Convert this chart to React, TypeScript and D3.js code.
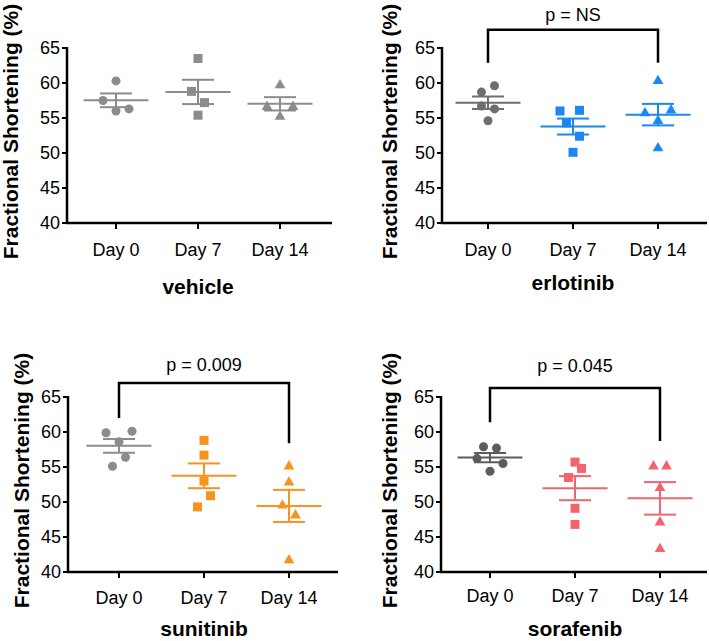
import React from "react";
import * as d3 from "d3";

// categories and values
const days = ["Day 0", "Day 7", "Day 14"];
const yTicks = [40, 45, 50, 55, 60, 65];

const vehicleValues = [
  [60.3, 57.5, 56.0, 56.3],
  [63.5, 58.8, 57.2, 55.4],
  [59.7, 56.6, 56.6, 55.2],
];
const vehicleJitter = [
  [0, -2, 0, 2],
  [0, -1, 1, 0],
  [0, -2, 2, 0],
];

const erlotinibValues = [
  [59.6, 58.7, 56.7, 56.3, 54.6],
  [56.0, 56.1, 54.3, 52.4, 50.1],
  [60.3, 55.7, 56.1, 54.6, 50.7],
];
const erlotinibJitter = [
  [1, -1, -1, 1, 0],
  [-2, 1, -1, 1, 0],
  [0, -2, 2, 0, 0],
];

const sunitinibValues = [
  [59.9, 60.1, 58.6, 56.4, 55.1],
  [58.8, 56.7, 53.0, 50.9, 49.3],
  [55.1, 52.8, 49.5, 48.1, 41.7],
];
const sunitinibJitter = [
  [-2, 2, 0, 1, -1],
  [0, 0, 0, 1, -1],
  [0, 0, -1, 1, 0],
];

const sorafenibValues = [
  [57.9, 57.7, 56.2, 55.5, 54.4],
  [55.7, 54.8, 53.5, 49.1, 46.8],
  [55.1, 55.1, 52.0, 47.1, 43.3],
];
const sorafenibJitter = [
  [-1, 1, -2, 2, 0],
  [0, 1, -1, 0, 0],
  [-1, 1, 0, 0, 0],
];

const pLabels = ["p = NS", "p = 0.009", "p = 0.045"];

const FONT = "'Liberation Sans', Arial, sans-serif";
const symbols = [d3.symbolCircle, d3.symbolSquare, d3.symbolTriangle];
const symbolSizes = [64, 81, 50];

interface Bracket {
  label: string;
  top: number; // data units
  leftEnd: number;
  rightEnd: number;
  textY: number; // px
}

interface PanelProps {
  name: string;
  values: number[][];
  jitter: number[][];
  colors: string[];
  left: number;
  right: number;
  top: number;
  bottom: number;
  firstTick: number;
  lastTick: number;
  titleX: number;
  dayY: number;
  nameY: number;
  bracket?: Bracket;
}

const Panel = (p: PanelProps) => {
  const x = d3.scalePoint<string>().domain(days).range([p.firstTick, p.lastTick]);
  const y = d3.scaleLinear().domain([40, 65]).range([p.bottom, p.top]);
  const midX = (p.firstTick + p.lastTick) / 2;
  const jitterStep = 6.5;

  return (
    <g>
      {/* y axis title */}
      <text
        transform={`translate(${p.titleX},${(p.top + p.bottom) / 2 - 4}) rotate(-90)`}
        textAnchor="middle"
        dy="0.35em"
        fontSize={21}
        fontWeight="bold"
        fontFamily={FONT}
      >
        Fractional Shortening (%)
      </text>

      {/* axes */}
      <line x1={p.left} x2={p.left} y1={p.top - 1} y2={p.bottom} stroke="#000" strokeWidth={2.5} />
      <line x1={p.left - 1.25} x2={p.right} y1={p.bottom} y2={p.bottom} stroke="#000" strokeWidth={2.5} />
      {yTicks.map((t) => (
        <g key={t}>
          <line x1={p.left - 5} x2={p.left} y1={y(t)} y2={y(t)} stroke="#000" strokeWidth={2} />
          <text
            x={p.left - 7}
            y={y(t)}
            dy="0.36em"
            textAnchor="end"
            fontSize={18}
            fontFamily={FONT}
          >
            {t}
          </text>
        </g>
      ))}
      {days.map((d) => (
        <g key={d}>
          <line x1={x(d)} x2={x(d)} y1={p.bottom} y2={p.bottom + 6} stroke="#000" strokeWidth={2} />
          <text x={x(d)} y={p.dayY} dy="0.36em" textAnchor="middle" fontSize={18} fontFamily={FONT}>
            {d}
          </text>
        </g>
      ))}
      <text
        x={midX}
        y={p.nameY}
        dy="0.36em"
        textAnchor="middle"
        fontSize={21}
        fontWeight="bold"
        fontFamily={FONT}
      >
        {p.name}
      </text>

      {/* significance bracket */}
      {p.bracket && (
        <g>
          <path
            d={`M${x(days[0])},${y(p.bracket.leftEnd)}V${y(p.bracket.top)}H${x(days[2])}V${y(
              p.bracket.rightEnd
            )}`}
            fill="none"
            stroke="#000"
            strokeWidth={2.5}
          />
          <text
            x={midX}
            y={p.bracket.textY}
            dy="0.36em"
            textAnchor="middle"
            fontSize={18}
            fontFamily={FONT}
          >
            {p.bracket.label}
          </text>
        </g>
      )}

      {/* scatter with mean and SEM */}
      {days.map((d, i) => {
        const vals = p.values[i];
        const cx = x(d) as number;
        const mean = d3.mean(vals) as number;
        const sem = (d3.deviation(vals) as number) / Math.sqrt(vals.length);
        const color = p.colors[i];
        const path = d3.symbol().type(symbols[i]).size(symbolSizes[i])() as string;
        return (
          <g key={d}>
            {vals.map((v, j) => (
              <path
                key={j}
                d={path}
                transform={`translate(${cx + p.jitter[i][j] * jitterStep},${y(v)})`}
                fill={color}
              />
            ))}
            <line x1={cx - 32.5} x2={cx + 32.5} y1={y(mean)} y2={y(mean)} stroke={color} strokeWidth={2} />
            <line x1={cx} x2={cx} y1={y(mean + sem)} y2={y(mean - sem)} stroke={color} strokeWidth={2} />
            <line x1={cx - 16} x2={cx + 16} y1={y(mean + sem)} y2={y(mean + sem)} stroke={color} strokeWidth={2} />
            <line x1={cx - 16} x2={cx + 16} y1={y(mean - sem)} y2={y(mean - sem)} stroke={color} strokeWidth={2} />
          </g>
        );
      })}
    </g>
  );
};

const App = () => {
  return (
    <svg
      width={709}
      height={641}
      style={{ position: "absolute", left: 0, top: 0, background: "#fff" }}
    >
      <Panel
        name="vehicle"
        values={vehicleValues}
        jitter={vehicleJitter}
        colors={["#8c8c8c", "#8c8c8c", "#8c8c8c"]}
        left={67}
        right={332}
        top={48}
        bottom={223}
        firstTick={116}
        lastTick={280}
        titleX={11}
        dayY={250}
        nameY={286}
      />
      <Panel
        name="erlotinib"
        values={erlotinibValues}
        jitter={erlotinibJitter}
        colors={["#6e6e6e", "#1a88f0", "#1a88f0"]}
        left={442}
        right={707}
        top={48}
        bottom={223}
        firstTick={488}
        lastTick={658}
        titleX={390}
        dayY={250}
        nameY={282}
        bracket={{ label: pLabels[0], top: 67.6, leftEnd: 62.9, rightEnd: 62.9, textY: 15 }}
      />
      <Panel
        name="sunitinib"
        values={sunitinibValues}
        jitter={sunitinibJitter}
        colors={["#8c8c8c", "#f7931e", "#f7931e"]}
        left={68}
        right={338}
        top={397}
        bottom={572}
        firstTick={119}
        lastTick={289}
        titleX={22}
        dayY={598}
        nameY={628}
        bracket={{ label: pLabels[1], top: 67, leftEnd: 62, rightEnd: 58.4, textY: 365 }}
      />
      <Panel
        name="sorafenib"
        values={sorafenibValues}
        jitter={sorafenibJitter}
        colors={["#5c5c5c", "#f4646c", "#f4646c"]}
        left={441}
        right={707}
        top={397}
        bottom={572}
        firstTick={490}
        lastTick={660}
        titleX={390}
        dayY={596}
        nameY={628}
        bracket={{ label: pLabels[2], top: 66.3, leftEnd: 61.4, rightEnd: 58.7, textY: 366 }}
      />
    </svg>
  );
};

export default App;
